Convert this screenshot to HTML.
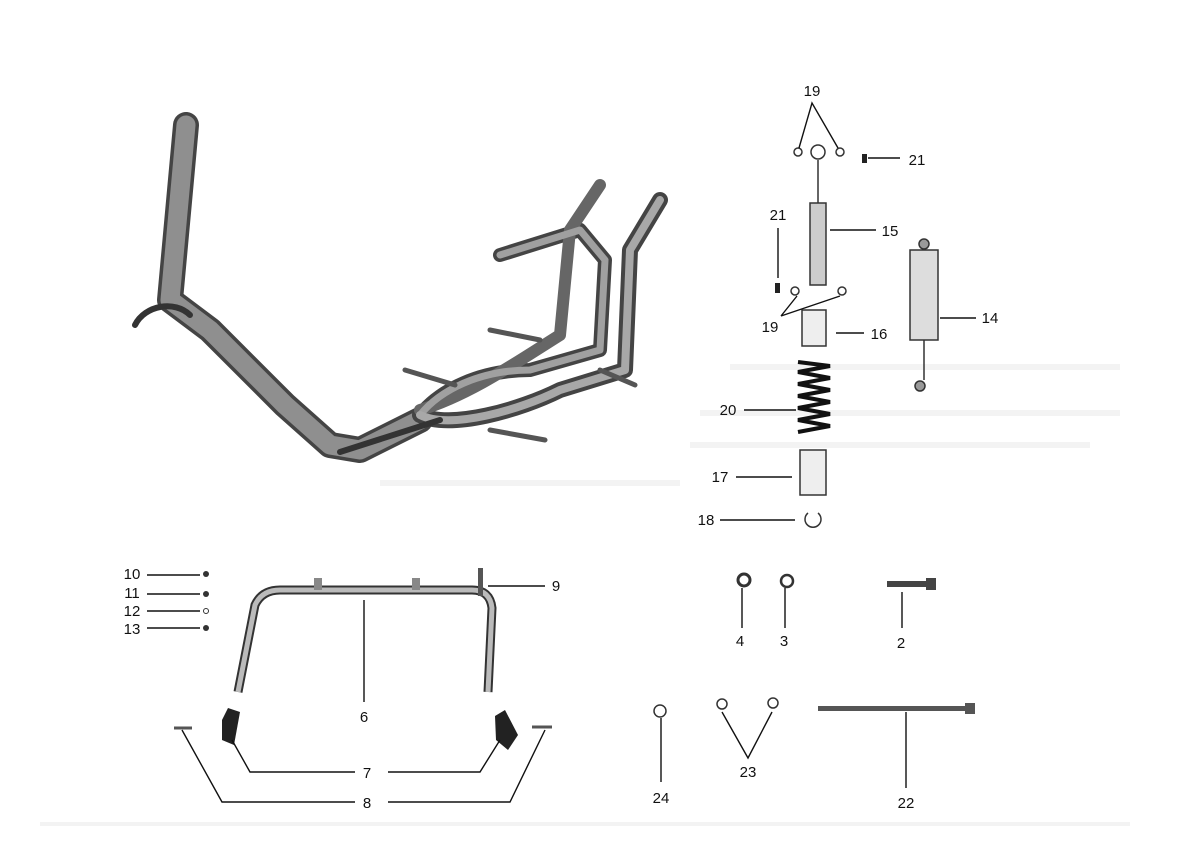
<!DOCTYPE html>
<html><head><meta charset="utf-8"><style>
html,body{margin:0;padding:0;background:#fff;}
svg{display:block}
text{font-family:"Liberation Sans",sans-serif;font-size:15px;fill:#111;text-anchor:middle}
</style></head><body>
<svg width="1200" height="846" viewBox="0 0 1200 846" xmlns="http://www.w3.org/2000/svg">
<rect width="1200" height="846" fill="#fff"/>
<g fill="#f3f3f3">
<rect x="730" y="364" width="390" height="6"/><rect x="700" y="410" width="420" height="6"/>
<rect x="690" y="442" width="400" height="6"/><rect x="380" y="480" width="300" height="6"/>
<rect x="40" y="822" width="1090" height="4"/>
</g>
<g fill="none" stroke-linecap="round" stroke-linejoin="round">
<path d="M186 125 L170 300 L210 330 L285 405 L330 445 L360 450 L420 420" stroke="#444" stroke-width="26"/>
<path d="M186 125 L170 300 L210 330 L285 405 L330 445 L360 450 L420 420" stroke="#8f8f8f" stroke-width="19"/>
<path d="M420 415 C440 390 480 370 530 370 L600 350 L605 260 L580 230 L500 255" stroke="#444" stroke-width="14"/>
<path d="M420 415 C450 430 520 410 560 390 L625 370 L630 250 L660 200" stroke="#444" stroke-width="16"/>
<path d="M420 410 C470 395 520 360 560 335 L570 230 L600 185" stroke="#666" stroke-width="12"/>
<path d="M420 415 C440 390 480 370 530 370 L600 350 L605 260 L580 230 L500 255" stroke="#a0a0a0" stroke-width="7"/>
<path d="M420 415 C450 430 520 410 560 390 L625 370 L630 250 L660 200" stroke="#a8a8a8" stroke-width="8"/>
<path d="M405 370 L455 385 M490 330 L540 340 M490 430 L545 440 M600 370 L635 385" stroke="#555" stroke-width="5"/>
<path d="M135 325 C145 305 175 300 190 315" stroke="#333" stroke-width="6"/>
<path d="M340 452 L440 420" stroke="#333" stroke-width="6"/>
</g>
<path d="M238 692 L255 605 Q262 590 280 590 L472 590 Q490 590 492 608 L488 692" fill="none" stroke="#333" stroke-width="9"/>
<path d="M238 692 L255 605 Q262 590 280 590 L472 590 Q490 590 492 608 L488 692" fill="none" stroke="#bbb" stroke-width="5"/>
<rect x="314" y="578" width="8" height="12" fill="#888"/><rect x="412" y="578" width="8" height="12" fill="#888"/>
<path d="M222 720 L228 708 L240 712 L234 745 L222 740 Z" fill="#222"/>
<path d="M495 716 L505 710 L518 735 L508 750 L496 740 Z" fill="#222"/>
<line x1="174" y1="728" x2="192" y2="728" stroke="#555" stroke-width="3"/>
<line x1="532" y1="727" x2="552" y2="727" stroke="#555" stroke-width="3"/>
<g stroke="#333" fill="#ddd" stroke-width="1.5">
<circle cx="818" cy="152" r="7" fill="#fff"/>
<line x1="818" y1="160" x2="818" y2="205"/>
<rect x="810" y="203" width="16" height="82" fill="#ccc"/>
<rect x="802" y="310" width="24" height="36" fill="#eee"/>
<rect x="800" y="450" width="26" height="45" fill="#eee"/>
<rect x="910" y="250" width="28" height="90" fill="#ddd"/>
<line x1="924" y1="340" x2="924" y2="380"/>
<circle cx="924" cy="244" r="5" fill="#999"/><circle cx="920" cy="386" r="5" fill="#999"/>
</g>
<path d="M798 362 L830 366 L798 372 L830 378 L798 384 L830 390 L798 396 L830 402 L798 408 L830 414 L798 420 L830 426 L798 432" fill="none" stroke="#111" stroke-width="4"/>
<g fill="none" stroke="#333" stroke-width="1.5">
<circle cx="798" cy="152" r="4"/><circle cx="840" cy="152" r="4"/>
<circle cx="795" cy="291" r="4"/><circle cx="842" cy="291" r="4"/>
<path d="M808 513 A8 8 0 1 0 818 513"/>
<circle cx="787" cy="581" r="6" stroke-width="2.5"/><circle cx="744" cy="580" r="6" stroke-width="3"/>
<circle cx="660" cy="711" r="6"/><circle cx="722" cy="704" r="5"/><circle cx="773" cy="703" r="5"/>
</g>
<rect x="862" y="154" width="5" height="9" fill="#222"/><rect x="775" y="283" width="5" height="10" fill="#222"/>
<rect x="887" y="581" width="40" height="6" fill="#444"/><rect x="926" y="578" width="10" height="12" fill="#444"/>
<rect x="818" y="706" width="150" height="5" fill="#555"/><rect x="965" y="703" width="10" height="11" fill="#555"/>
<rect x="478" y="568" width="5" height="28" fill="#555"/>
<g fill="#333"><circle cx="206" cy="574" r="3"/><circle cx="206" cy="594" r="3"/><circle cx="206" cy="611" r="2.5" fill="none" stroke="#333"/><circle cx="206" cy="628" r="3"/></g>
<g stroke="#111" stroke-width="1.4" fill="none">
<path d="M799 148 L812 103 L838 148"/>
<line x1="868" y1="158" x2="900" y2="158"/>
<line x1="778" y1="228" x2="778" y2="278"/>
<line x1="830" y1="230" x2="876" y2="230"/>
<path d="M781 316 L797 296 M781 316 L840 296"/>
<line x1="836" y1="333" x2="864" y2="333"/>
<line x1="940" y1="318" x2="976" y2="318"/>
<line x1="744" y1="410" x2="796" y2="410"/>
<line x1="736" y1="477" x2="792" y2="477"/>
<line x1="720" y1="520" x2="795" y2="520"/>
<line x1="147" y1="575" x2="200" y2="575"/>
<line x1="147" y1="594" x2="200" y2="594"/>
<line x1="147" y1="611" x2="200" y2="611"/>
<line x1="147" y1="628" x2="200" y2="628"/>
<line x1="488" y1="586" x2="545" y2="586"/>
<line x1="364" y1="600" x2="364" y2="702"/>
<path d="M232 740 L250 772 L355 772 M388 772 L480 772 L500 740"/>
<path d="M182 730 L222 802 L355 802 M388 802 L510 802 L545 730"/>
<line x1="742" y1="588" x2="742" y2="628"/>
<line x1="785" y1="588" x2="785" y2="628"/>
<line x1="902" y1="592" x2="902" y2="628"/>
<line x1="661" y1="718" x2="661" y2="782"/>
<path d="M722 712 L748 758 L772 712"/>
<line x1="906" y1="712" x2="906" y2="788"/>
</g>
<text x="812" y="96">19</text><text x="917" y="165">21</text>
<text x="778" y="220">21</text><text x="890" y="236">15</text>
<text x="770" y="332">19</text><text x="879" y="339">16</text>
<text x="990" y="323">14</text><text x="728" y="415">20</text>
<text x="720" y="482">17</text><text x="706" y="525">18</text>
<text x="132" y="579">10</text><text x="132" y="598">11</text>
<text x="132" y="616">12</text><text x="132" y="634">13</text>
<text x="556" y="591">9</text><text x="364" y="722">6</text>
<text x="367" y="778">7</text><text x="367" y="808">8</text>
<text x="740" y="646">4</text><text x="784" y="646">3</text>
<text x="901" y="648">2</text><text x="661" y="803">24</text>
<text x="748" y="777">23</text><text x="906" y="808">22</text>
</svg>
</body></html>
